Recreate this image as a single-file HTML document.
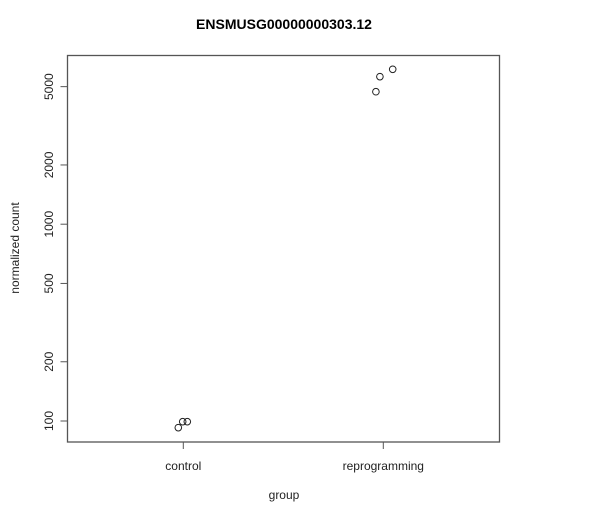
<!DOCTYPE html>
<html><head><meta charset="utf-8"><style>
html,body{margin:0;padding:0;background:#fff;width:590px;height:517px;overflow:hidden}
svg{display:block;font-family:"Liberation Sans",Arial,sans-serif}
</style></head><body>
<svg id="chart" width="590" height="517" viewBox="0 0 590 517">
<text x="284" y="29" text-anchor="middle" font-size="14" font-weight="bold" fill="#000">ENSMUSG00000000303.12</text>
<rect x="67.5" y="55.5" width="432" height="386.5" fill="none" stroke="#555" stroke-width="1.3"/>
<text transform="translate(19,248) rotate(-90)" text-anchor="middle" font-size="12" fill="#222">normalized count</text>
<text x="284" y="499" text-anchor="middle" font-size="12" fill="#222">group</text>
<g id="yaxis"></g>
<g id="xaxis"></g>
<g id="points"></g>
</svg>
<script>
const categories = ["control", "reprogramming"];
const pointGroups = [0, 0, 0, 1, 1, 1];
const pointJitter = [-0.025, -0.003, 0.02, -0.037, -0.017, 0.047];
const pointValues = [92.5, 99.2, 99.2, 4711, 5620, 6126];
const yTicks = [100, 200, 500, 1000, 2000, 5000];
const yTickLabels = ["100", "200", "500", "1000", "2000", "5000"];

const NS = "http://www.w3.org/2000/svg";
function y(v){ return 421 - (Math.log10(v) - 2) * 196.8; }
function x(g){ return 183.3 + g * 200; }
function mk(tag, attrs, parent){
  const e = document.createElementNS(NS, tag);
  for (const k in attrs) e.setAttribute(k, attrs[k]);
  parent.appendChild(e);
  return e;
}
const ya = document.getElementById('yaxis');
yTicks.forEach((t, i) => {
  const yy = y(t);
  const l = mk('line', {x1: 60.5, x2: 67.5, y1: yy, y2: yy, stroke: '#555', 'stroke-width': 1}, ya);
  
  
  const tx = mk('text', {transform: `translate(53,${yy}) rotate(-90)`, 'text-anchor': 'middle', 'font-size': 12, fill: '#222'}, ya);
  tx.textContent = yTickLabels[i];
  
  
});
const xa = document.getElementById('xaxis');
categories.forEach((c, i) => {
  const xx = x(i);
  const l = mk('line', {x1: xx, x2: xx, y1: 442, y2: 449, stroke: '#555', 'stroke-width': 1}, xa);
  
  
  const tx = mk('text', {x: xx, y: 470, 'text-anchor': 'middle', 'font-size': 12, fill: '#222'}, xa);
  tx.textContent = c;
  
  
});
const pg = document.getElementById('points');
pointValues.forEach((v, i) => {
  const c = mk('circle', {cx: x(pointGroups[i] + pointJitter[i]), cy: y(v), r: 3.3, fill: 'none', stroke: '#222', 'stroke-width': 1}, pg);
  
  
});
</script>
</body></html>
